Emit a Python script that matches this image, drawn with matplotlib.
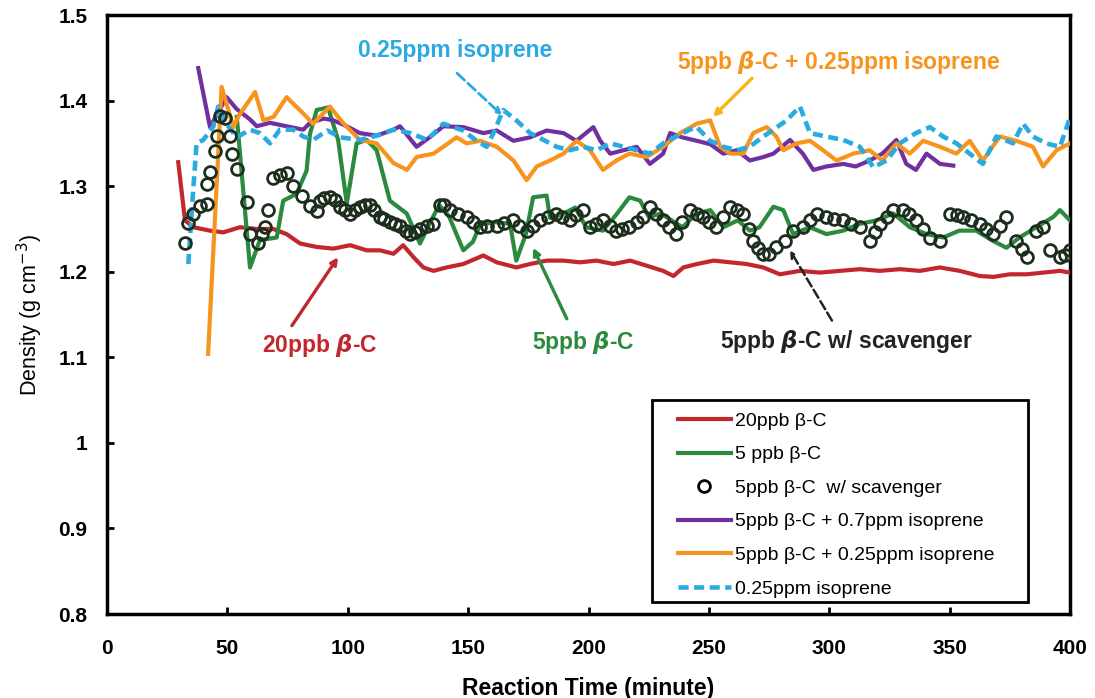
import matplotlib
matplotlib.use('Agg')
import matplotlib.pyplot as plt
from matplotlib.patches import Rectangle

plt.rcParams['font.family'] = ['Liberation Sans', 'DejaVu Sans']

# reaction time (minute) / density (g cm-3)
red_x = [29.6, 32.4, 35.9, 42.8, 48.3, 55.2, 62.1, 69, 74.6, 80.2, 87, 94, 101, 107.9, 113.4, 119,
         123, 127.3, 131.4, 135.6, 141, 148, 156.3, 161.9, 170, 175.7, 182.6, 189.6, 196.5, 203.4,
         210.4, 217.3, 224.2, 231, 235.3, 239.4, 245, 252, 258.8, 265.7, 272.6, 279.5, 287.8, 296,
         304.4, 312.7, 321, 329.3, 337.6, 345.9, 354.2, 362.5, 368.2, 375, 382, 389, 395.8, 400]
red_y = [1.328, 1.26, 1.252, 1.248, 1.246, 1.252, 1.250, 1.250, 1.244, 1.233, 1.229, 1.227, 1.231,
         1.225, 1.225, 1.221, 1.231, 1.217, 1.205, 1.201, 1.205, 1.209, 1.219, 1.211, 1.205, 1.209,
         1.213, 1.213, 1.211, 1.213, 1.209, 1.213, 1.207, 1.201, 1.195, 1.205, 1.209, 1.213, 1.211,
         1.209, 1.205, 1.197, 1.201, 1.199, 1.201, 1.203, 1.201, 1.203, 1.201, 1.205, 1.201, 1.195,
         1.194, 1.197, 1.197, 1.199, 1.201, 1.199]

green_x = [53.9, 59.4, 63.5, 70.5, 73.2, 78.7, 82.9, 84.3, 87.1, 91.8, 96, 99.6, 103.7, 107.9, 112,
           117.5, 124.5, 130, 135.4, 138, 142, 148, 152, 155, 161, 167.4, 170, 174, 177, 182.6, 184,
           189, 194.5, 199, 206, 211.6, 217, 221.5, 225, 230, 239, 245, 250.6, 256, 262, 267, 271,
           276.8, 280.9, 285, 291.9, 298.8, 305.8, 312.7, 319.6, 326.6, 333.5, 340.4, 347.3, 354,
           361, 368, 373.6, 379, 386, 393, 395.8, 400]
green_y = [1.381, 1.205, 1.237, 1.24, 1.283, 1.291, 1.318, 1.361, 1.389, 1.392, 1.354, 1.280, 1.350,
           1.354, 1.342, 1.283, 1.268, 1.233, 1.264, 1.278, 1.265, 1.225, 1.235, 1.255, 1.258, 1.256,
           1.213, 1.244, 1.287, 1.289, 1.263, 1.267, 1.275, 1.252, 1.248, 1.267, 1.287, 1.283, 1.264,
           1.268, 1.252, 1.268, 1.272, 1.252, 1.26, 1.248, 1.252, 1.276, 1.272, 1.244, 1.252, 1.244,
           1.248, 1.256, 1.26, 1.268, 1.252, 1.244, 1.24, 1.248, 1.248, 1.236, 1.228, 1.24, 1.252,
           1.264, 1.272, 1.26]

scav_x = [32.4, 33.8, 35.9, 38.6, 41.4, 41.4, 42.8, 44.9, 45.6, 47, 49, 51.3, 52, 54, 58, 59.4,
          62.8, 64.2, 65.6, 67, 69, 71.8, 74.6, 77.4, 80.8, 84.3, 87.1, 88.4, 90, 92.5, 94.5, 96.8,
          99, 101, 103, 105, 107, 109.2, 111, 113.4, 115, 117.5, 119.5, 121.7, 124, 125.9, 128, 130,
          133, 135.6, 138.3, 140, 142.5, 146, 149.4, 152, 155, 158, 161.9, 165, 168.8, 171, 174.3,
          177, 179.8, 183, 186.7, 189, 192.2, 195, 197.8, 200.6, 203, 206, 209, 211.6, 214, 217,
          220, 222.6, 225.4, 228, 230.9, 233.5, 236.4, 239, 242, 245, 247.5, 250, 253, 256, 258.8,
          261.5, 264.3, 266.5, 268.4, 270.5, 272.5, 275, 278, 281.5, 285, 289, 292, 294.8, 298.8,
          302, 305.8, 309, 312.7, 316.8, 319, 321, 324, 326.6, 330.7, 333, 336, 339, 341.8, 346,
          350, 353, 355.4, 359, 362.4, 365, 368, 371, 373.6, 377.7, 380, 382, 386, 388.9, 391.6,
          395.8, 398, 400]
scav_y = [1.233, 1.257, 1.267, 1.277, 1.279, 1.302, 1.316, 1.341, 1.359, 1.382, 1.38, 1.359, 1.337,
          1.32, 1.281, 1.244, 1.234, 1.244, 1.252, 1.272, 1.309, 1.313, 1.315, 1.30, 1.289, 1.277,
          1.271, 1.283, 1.286, 1.287, 1.284, 1.276, 1.272, 1.268, 1.272, 1.276, 1.278, 1.278, 1.272,
          1.264, 1.262, 1.258, 1.256, 1.254, 1.248, 1.244, 1.247, 1.25, 1.253, 1.256, 1.278, 1.278,
          1.272, 1.268, 1.264, 1.258, 1.252, 1.253, 1.254, 1.257, 1.26, 1.254, 1.248, 1.254, 1.26,
          1.264, 1.268, 1.264, 1.26, 1.266, 1.272, 1.252, 1.256, 1.26, 1.254, 1.248, 1.25, 1.252,
          1.258, 1.264, 1.276, 1.268, 1.26, 1.252, 1.244, 1.258, 1.272, 1.268, 1.264, 1.258, 1.252,
          1.264, 1.276, 1.272, 1.268, 1.25, 1.236, 1.228, 1.221, 1.221, 1.229, 1.236, 1.248, 1.252,
          1.26, 1.268, 1.264, 1.262, 1.26, 1.256, 1.252, 1.236, 1.246, 1.256, 1.264, 1.272, 1.272,
          1.268, 1.26, 1.25, 1.24, 1.236, 1.268, 1.266, 1.264, 1.26, 1.256, 1.25, 1.244, 1.254,
          1.264, 1.236, 1.226, 1.217, 1.248, 1.252, 1.225, 1.217, 1.22, 1.225]

purple_x = [37.9, 42.8, 49.7, 53.9, 59.4, 62.2, 67.7, 74.6, 81.5, 84.3, 90, 94, 99.6, 105, 112, 119,
            121.7, 128.6, 134, 139.7, 148, 156.3, 161.9, 168.8, 175.7, 182.6, 189.6, 195, 202,
            204.9, 209, 214.6, 220, 225.5, 231, 233.9, 239, 245, 250.6, 256, 261.6, 267, 272.6,
            276.8, 283.7, 289, 293.4, 298.8, 305.8, 311, 316.8, 322, 327.9, 332, 336, 340.4, 346,
            351.5]
purple_y = [1.438, 1.369, 1.404, 1.39, 1.378, 1.37, 1.374, 1.37, 1.366, 1.374, 1.379, 1.377, 1.37,
            1.362, 1.359, 1.366, 1.37, 1.346, 1.357, 1.37, 1.369, 1.362, 1.365, 1.353, 1.357, 1.365,
            1.362, 1.353, 1.369, 1.353, 1.338, 1.342, 1.346, 1.326, 1.338, 1.362, 1.357, 1.353,
            1.349, 1.338, 1.342, 1.33, 1.334, 1.338, 1.354, 1.338, 1.319, 1.323, 1.326, 1.323, 1.33,
            1.338, 1.354, 1.326, 1.319, 1.338, 1.326, 1.324]

orange_x = [42, 47.6, 52.5, 54.9, 61.5, 65, 69.2, 74.6, 81.5, 85.6, 92.6, 98, 105, 112, 119, 124.6,
            128.6, 135.6, 139.7, 145.2, 149.4, 155, 161.9, 168.8, 174.3, 178.5, 184, 189.6, 195,
            200.6, 206, 211.6, 217, 224, 231, 238, 245, 250.5, 254.7, 258.8, 264.3, 268.4, 274,
            278, 280.9, 286.4, 292, 297.4, 303, 310, 316.8, 322, 327.9, 333.4, 339, 346, 352.8,
            358.3, 363.8, 370.8, 377.7, 384.6, 388.8, 394.4, 400]
orange_y = [1.104, 1.416, 1.369, 1.383, 1.41, 1.377, 1.381, 1.404, 1.385, 1.373, 1.393, 1.374,
            1.354, 1.35, 1.327, 1.319, 1.334, 1.338, 1.346, 1.357, 1.35, 1.353, 1.346, 1.33, 1.307,
            1.323, 1.33, 1.338, 1.353, 1.342, 1.319, 1.33, 1.338, 1.334, 1.346, 1.362, 1.373, 1.377,
            1.346, 1.338, 1.338, 1.362, 1.369, 1.358, 1.342, 1.35, 1.353, 1.342, 1.33, 1.338, 1.342,
            1.33, 1.35, 1.338, 1.353, 1.346, 1.338, 1.353, 1.33, 1.358, 1.353, 1.346, 1.323, 1.342,
            1.35]

cyan_x = [33.8, 35.2, 37.2, 40, 44.2, 46.2, 49, 53.9, 59.4, 63.5, 67.7, 71.8, 77.4, 81.5, 85.6,
          91.5, 97, 105, 112, 119, 126, 133, 139.7, 148, 153.5, 157.7, 160.5, 164.6, 170, 175.7,
          181.3, 186.8, 192.3, 197.8, 203.4, 209, 214.6, 220, 225.5, 231, 236.4, 242, 245, 250.5,
          256, 261.6, 267, 272.6, 276.8, 282.3, 287.8, 292, 298.8, 305.8, 312.7, 318.3, 323.8,
          329.3, 336, 341.8, 347.3, 352.8, 358.3, 363.8, 369.4, 376.3, 380.5, 384.6, 390, 395.8, 400]
cyan_y = [1.209, 1.271, 1.35, 1.354, 1.37, 1.393, 1.375, 1.357, 1.366, 1.362, 1.35, 1.366, 1.366,
          1.358, 1.354, 1.365, 1.357, 1.354, 1.359, 1.366, 1.362, 1.354, 1.373, 1.365, 1.353,
          1.346, 1.362, 1.389, 1.377, 1.362, 1.354, 1.346, 1.342, 1.346, 1.342, 1.35, 1.346, 1.342,
          1.338, 1.35, 1.358, 1.366, 1.369, 1.353, 1.346, 1.342, 1.346, 1.358, 1.366, 1.377, 1.393,
          1.362, 1.358, 1.354, 1.346, 1.322, 1.33, 1.35, 1.362, 1.369, 1.358, 1.35, 1.338, 1.326,
          1.358, 1.35, 1.373, 1.358, 1.35, 1.346, 1.38]

labels = ['20ppb \u03b2-C', '5 ppb \u03b2-C', '5ppb \u03b2-C  w/ scavenger',
          '5ppb \u03b2-C + 0.7ppm isoprene', '5ppb \u03b2-C + 0.25ppm isoprene', '0.25ppm isoprene']

RED = '#C1272D'
GREEN = '#2B8A3E'
DARK = '#1E2E1E'
PURPLE = '#7030A0'
ORANGE = '#F7941D'
CYAN = '#29ABE2'

fig = plt.figure(figsize=(10.95, 6.98), dpi=100)
ax = fig.add_axes([0.0977, 0.1203, 0.8795, 0.8582])

ax.plot(red_x, red_y, color=RED, lw=3.0, label=labels[0], zorder=3)
ax.plot(green_x, green_y, color=GREEN, lw=3.0, label=labels[1], zorder=3)
ax.plot(scav_x, scav_y, ls='none', marker='o', ms=8.5, mfc='none', mec=DARK, mew=2,
        label=labels[2], zorder=4)
ax.plot(purple_x, purple_y, color=PURPLE, lw=3.0, label=labels[3], zorder=3)
ax.plot(orange_x, orange_y, color=ORANGE, lw=3.0, label=labels[4], zorder=3)
ax.plot(cyan_x, cyan_y, color=CYAN, lw=3.3, ls=(0, (2.2, 1.2)), label=labels[5], zorder=3)

ax.set_xlim(0, 400)
ax.set_ylim(0.8, 1.5)
ax.set_xticks(range(0, 401, 50))
ax.set_yticks([0.8, 0.9, 1.0, 1.1, 1.2, 1.3, 1.4, 1.5])
ax.set_yticklabels(['0.8', '0.9', '1', '1.1', '1.2', '1.3', '1.4', '1.5'])
ax.tick_params(direction='in', length=5, width=2, labelsize=15)
ax.tick_params(axis='x', pad=18)
ax.tick_params(axis='y', pad=14)
for lab in ax.get_xticklabels() + ax.get_yticklabels():
    lab.set_fontweight('bold')
for sp in ax.spines.values():
    sp.set_linewidth(2.5)

ax.set_xlabel('Reaction Time (minute)', fontsize=16.5, fontweight='bold')
ax.set_ylabel('Density (g cm$^{-3}$)', fontsize=15.5)
ax.xaxis.set_label_coords(0.5, -0.105)
ax.yaxis.set_label_coords(-0.064, 0.5)

# legend box is wider than matplotlib's symmetric padding gives, so draw it separately
ax.add_patch(Rectangle((0.566, 0.020), 0.390, 0.337, transform=ax.transAxes, fill=True,
                       facecolor='white', edgecolor='black', lw=2, zorder=5))
leg = ax.legend(loc='upper left', bbox_to_anchor=(0.593, 0.337), borderaxespad=0, borderpad=0,
                fontsize=14, frameon=False, handlelength=2.7, handletextpad=0.25,
                labelspacing=0.82)
leg.set_zorder(6)
for h in leg.legend_handles:
    if h.get_marker() == 'o':
        h.set_markeredgecolor('black')

# annotation texts
bold = dict(fontsize=16.5, fontweight='bold', ha='center', va='center')
ax.text(144.5, 1.459, '0.25ppm isoprene', color=CYAN, **bold)
ax.text(304, 1.445, '5ppb $\\mathbfit{\u03b2}$-C + 0.25ppm isoprene', color=ORANGE, **bold)
ax.text(88.5, 1.114, '20ppb $\\mathbfit{\u03b2}$-C', color=RED, **bold)
ax.text(198, 1.117, '5ppb $\\mathbfit{\u03b2}$-C', color=GREEN, **bold)
ax.text(307, 1.119, '5ppb $\\mathbfit{\u03b2}$-C w/ scavenger', color='#222222', **bold)

# arrows
ax.annotate('', xy=(164.1, 1.383), xytext=(145.4, 1.432),
            arrowprops=dict(arrowstyle='->', color=CYAN, lw=2, ls='--', shrinkA=0, shrinkB=0))
ax.annotate('', xy=(251.7, 1.381), xytext=(267.9, 1.426),
            arrowprops=dict(arrowstyle='->', color='#F9B21B', lw=2.4, shrinkA=0, shrinkB=0))
ax.annotate('', xy=(96, 1.217), xytext=(76.8, 1.137),
            arrowprops=dict(arrowstyle='->', color=RED, lw=2.4, shrinkA=0, shrinkB=0))
ax.annotate('', xy=(177, 1.228), xytext=(191, 1.145),
            arrowprops=dict(arrowstyle='->', color=GREEN, lw=2.4, shrinkA=0, shrinkB=0))
ax.annotate('', xy=(283.7, 1.225), xytext=(301.1, 1.143),
            arrowprops=dict(arrowstyle='->', color='#222222', lw=1.8, ls='--',
                            shrinkA=0, shrinkB=0))

fig.savefig('out.png', dpi=100)
